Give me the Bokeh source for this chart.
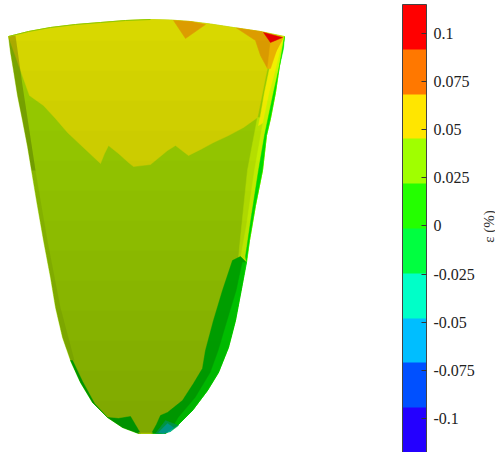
import numpy as np
from bokeh.plotting import figure
from bokeh.models import ColorBar, LinearColorMapper, FixedTicker, Range1d
from bokeh.core.properties import value
from bokeh.embed import file_html
from bokeh.resources import INLINE

# colour scale
palette = ["#2400ff", "#0050ff", "#00beff", "#00ffc8", "#00ff40",
           "#24ff00", "#a0ff00", "#ffe600", "#ff7800", "#ff0000"]
scale_low, scale_high = -0.1176, 0.115
tick_values = [-0.1, -0.075, -0.05, -0.025, 0, 0.025, 0.05, 0.075, 0.1]
tick_labels = ["-0.1", "-0.075", "-0.05", "-0.025", "0", "0.025", "0.05", "0.075", "0.1"]

# field outline and contour regions
left_x = [8, 10, 13, 17, 22, 27, 31, 36, 43, 50, 55, 62, 70, 80, 92, 107, 122, 138]
left_y = [36, 52, 70, 95, 120, 146, 170, 200, 240, 277, 307, 337, 360, 382, 402, 417, 427, 433]
right_x = [152, 165, 177, 192, 207, 218, 228, 235, 242, 249, 255, 262, 266, 270, 275, 279, 284]
right_y = [433, 433, 425, 410, 390, 372, 347, 320, 283, 240, 205, 170, 135, 118, 92, 65, 36]
top_x = [284, 260, 233, 210, 190, 170, 150, 125, 100, 75, 50, 28, 8]
top_y = [36, 31, 27, 23.5, 21, 19.5, 19, 20, 22, 24, 27, 31, 36]

yellow_x = [8, 29, 43, 55, 67, 84, 100, 104, 108, 118, 128, 133, 150, 167, 175, 188, 200, 213, 228, 243, 257, 261, 265, 272, 284, 260, 233, 210, 190, 170, 150, 125, 100, 75, 50, 28]
yellow_y = [36, 95, 105, 118, 132, 148, 163, 153, 145, 153, 162, 166, 164, 150, 145, 155, 149, 142, 135, 127, 117, 97, 77, 45, 36, 31, 27, 23.5, 21, 19.5, 19, 20, 22, 24, 27, 31]
orange1_x = [173, 185, 205, 190]
orange1_y = [20, 38, 24, 21]
orange2_x = [236, 255, 260, 267, 282, 260]
orange2_y = [27.5, 40, 55, 68, 37, 31]
orange_light_x = [267, 270, 276, 283, 270]
orange_light_y = [68, 68, 50, 37, 42]
red_x = [263, 270, 282]
red_y = [32, 42, 37]
dull_x = [257, 247, 240, 238, 246, 249, 255, 262, 266, 270]
dull_y = [117, 170, 237, 258, 262, 240, 205, 170, 135, 118]
bright_yellow_x = [275, 269, 264, 260, 258, 270, 275, 279, 284]
bright_yellow_y = [46, 68, 92, 115, 125, 118, 92, 65, 36]
lime_x = [280, 273, 269, 262, 254, 246, 240, 246, 249, 255, 262, 266, 270, 275, 279, 284]
lime_y = [50, 78, 92, 125, 170, 225, 258, 262, 240, 205, 170, 135, 118, 92, 65, 36]
edge_x = [283, 273, 264, 258, 251, 245, 246, 249, 255, 262, 266, 270, 275, 279, 284]
edge_y = [48, 92, 135, 170, 215, 256, 262, 240, 205, 170, 135, 118, 92, 65, 36]
dark_green_x = [232, 222, 213, 205, 202, 193, 182, 167, 160, 156, 151, 152, 165, 177, 192, 207, 218, 228, 235, 242, 246, 240]
dark_green_y = [260, 290, 320, 350, 368, 383, 400, 412, 415, 424, 433, 433, 433, 425, 410, 390, 372, 347, 320, 283, 262, 256]
mid_green_x = [242, 236, 226, 218, 210, 195, 178, 172, 177, 192, 207, 218, 228, 235, 242, 246]
mid_green_y = [262, 290, 323, 350, 372, 397, 417, 427, 425, 410, 390, 372, 347, 320, 283, 262]
foot_x = [107, 118, 130, 140, 138, 122]
foot_y = [417, 418, 416, 433, 433, 427]
edge_green_x = [70, 80, 92, 107, 94, 82, 72]
edge_green_y = [360, 382, 402, 417, 403, 381, 360]
teal_x = [158, 167, 173, 170, 163]
teal_y = [432, 423, 427, 431, 433]
teal_halo_x = [155, 165, 178, 170, 160]
teal_halo_y = [433, 420, 425, 431, 433]
bottom_x = [138, 152]
bottom_y = [432.5, 432.5]
dark_strip_upper_x = [15, 22, 35, 31, 27, 22, 17, 13, 10, 8]
dark_strip_upper_y = [35, 85, 170, 170, 146, 120, 95, 70, 52, 36]
dark_strip_lower_x = [35, 47, 60, 74, 70, 62, 55, 50, 43, 36, 31]
dark_strip_lower_y = [170, 240, 307, 360, 360, 337, 307, 277, 240, 200, 170]

shade_levels = [40, 70, 100, 130, 160, 190, 220, 250, 280, 310, 340, 370, 400, 430]

p = figure(width=495, height=452, output_backend="svg", toolbar_location=None,
           x_range=Range1d(0, 495), y_range=Range1d(452, 0),
           x_axis_type=None, y_axis_type=None, min_border=0,
           outline_line_color=None)
p.grid.visible = False

outline_x = left_x + right_x + top_x
outline_y = left_y + right_y + top_y
p.patch(outline_x, outline_y, color="#9ad000", line_width=0.5)
p.patch(yellow_x, yellow_y, color="#d8d800", line_width=0.5)
p.patch(orange1_x, orange1_y, color="#dc9c00", line_width=0.5)
p.patch(dull_x, dull_y, color="#c0ea00", line_width=0.5)
p.patch(bright_yellow_x, bright_yellow_y, color="#f6f200", line_width=0.5)
p.patch(orange2_x, orange2_y, color="#dc9c00", line_width=0.5)
p.patch(orange_light_x, orange_light_y, color="#ecb400", line_width=0.5)
p.patch(red_x, red_y, color="#e40000", line_width=0.5)
p.patch(lime_x, lime_y, color="#d0fa00", line_width=0.5)
p.patch(edge_x, edge_y, color="#00e800", line_width=0.5)
p.patch(dark_green_x, dark_green_y, color="#00b400", line_width=0.5)
p.patch(mid_green_x, mid_green_y, color="#00da00", line_width=0.5)
p.patch(foot_x, foot_y, color="#00ae00", line_width=0.5)
p.patch(edge_green_x, edge_green_y, color="#00ae00", line_width=0.5)
p.patch(teal_halo_x, teal_halo_y, color="#00b050", line_width=0.5)
p.patch(teal_x, teal_y, color="#00b4a0", line_width=0.5)
p.line(bottom_x, bottom_y, line_color="#b0d400", line_width=1.5)
p.patch(dark_strip_upper_x, dark_strip_upper_y, color="#000000", alpha=0.2, line_color=None)
p.patch(dark_strip_lower_x, dark_strip_lower_y, color="#000000", alpha=0.06, line_color=None)
p.line(top_x[6:], top_y[6:], line_color="#90c800", line_width=1)

lx, ly = np.array(left_x, float), np.array(left_y, float)
rx, ry = np.array(right_x, float), np.array(right_y, float)
for lev in shade_levels:
    lk = ly > lev
    rk = ry > lev
    xs = [np.interp(lev, ly, lx)] + list(lx[lk]) + list(rx[rk]) + [np.interp(lev, ry[::-1], rx[::-1])]
    ys = [lev] + list(ly[lk]) + list(ry[rk]) + [lev]
    p.patch(xs, ys, color="#000000", alpha=0.012, line_color=None)

mapper = LinearColorMapper(palette=palette, low=scale_low, high=scale_high)
cb = ColorBar(color_mapper=mapper, location=(402, 0), width=24, height=448,
              ticker=FixedTicker(ticks=tick_values),
              major_label_overrides=dict(zip(tick_values, tick_labels)),
              major_label_text_font="Liberation Serif", major_label_text_font_size="16px",
              major_label_text_color="#222222", label_standoff=7,
              major_tick_line_color="#333333", major_tick_in=5, major_tick_out=0,
              bar_line_color="#444444", bar_line_width=1, padding=0,
              background_fill_alpha=0, border_line_color=None)
p.add_layout(cb, "center")

p.text([488], [226], text=["\u03b5 (%)"], angle=[np.pi / 2], text_font=value("Liberation Serif"),
       text_font_size="15px", text_color="#333333", text_align="center", text_baseline="middle")

open("out.html", "w").write(file_html(p, INLINE))
